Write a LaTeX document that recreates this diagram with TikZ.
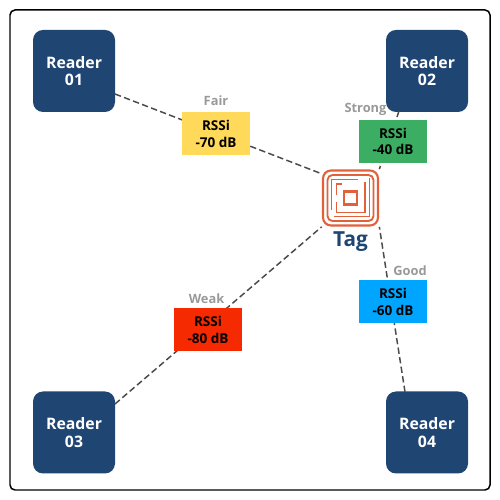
\documentclass[tikz,border=0pt]{standalone}
\usepackage{fontspec}
\setmainfont{Open Sans}
\usepackage{tikz}
\definecolor{readerblue}{HTML}{1F4573}
\definecolor{tagorange}{HTML}{E2603A}
\definecolor{fairyellow}{HTML}{FFD95A}
\definecolor{stronggreen}{HTML}{3CAE63}
\definecolor{goodblue}{HTML}{00A5FF}
\definecolor{weakred}{HTML}{F52A00}
\tikzset{
  reader/.style={fill=readerblue, rounded corners=0.2cm, minimum size=1.64cm, inner sep=0pt,
    align=center, text=white, font=\fontsize{9}{9.8}\selectfont\bfseries},
  rssi/.style={minimum width=1.36cm, minimum height=0.86cm, inner sep=0pt,
    align=center, text=black, font=\fontsize{7.7}{9.2}\selectfont\bfseries},
  quality/.style={text=gray!80, font=\fontsize{7.3}{8}\selectfont\bfseries, inner sep=0pt},
  link/.style={black!70, line width=0.85pt, dash pattern=on 3.6pt off 1.9pt},
  coil/.style={tagorange, line width=1.05pt}
}
\begin{document}
\begin{tikzpicture}
  \useasboundingbox (0,0) rectangle (10,10);

  % Outer frame
  \draw[black, line width=0.85pt, rounded corners=0.1cm] (0.2,0.2) rectangle (9.8,9.8);

  % Readers
  \node[reader] (reader1) at (1.48,8.58) {Reader\\01};
  \node[reader] (reader2) at (8.54,8.58) {Reader\\02};
  \node[reader] (reader3) at (1.48,1.35) {Reader\\03};
  \node[reader] (reader4) at (8.54,1.35) {Reader\\04};

  % Tag anchor
  \coordinate (tagcenter) at (7.01,6.04);
  \node[minimum size=1.14cm, inner sep=0pt] (tagicon) at (tagcenter) {};

  % Link ends
  \coordinate (port1) at (2.3,8.12);
  \coordinate (port2) at (7.98,7.78);
  \coordinate (port3) at (2.3,1.92);
  \coordinate (port4) at (8.1,2.16);

  % Links, drawn under the RSSi boxes
  \draw[link] (port1) -- (tagicon.140);
  \draw[link] (port2) -- (tagicon.north east);
  \draw[link] (port3) -- (tagicon.south west);
  \draw[link] (port4) -- (tagicon.south east);

  % RSSi boxes
  \node[rssi, fill=fairyellow] (fair) at (4.32,7.32) {RSSi\\-70 dB};
  \node[rssi, fill=stronggreen] (strong) at (7.86,7.17) {RSSi\\-40 dB};
  \node[rssi, fill=goodblue] (good) at (7.86,3.96) {RSSi\\-60 dB};
  \node[rssi, fill=weakred] (weak) at (4.16,3.4) {RSSi\\-80 dB};

  % Quality labels
  \node[quality] (fairlabel) at (4.32,7.98) {Fair};
  \node[quality] (stronglabel) at (7.31,7.82) {Strong};
  \node[quality] (goodlabel) at (8.2,4.58) {Good};
  \node[quality] (weaklabel) at (4.13,4.02) {Weak};

  % Tag icon
  \begin{scope}[shift={(tagcenter)}]
    \draw[coil, line width=1.2pt, rounded corners=0.16cm] (-0.55,-0.55) rectangle (0.55,0.55);
    \draw[coil, rounded corners=0.1cm] (-0.46,-0.46) rectangle (0.46,0.46);
    \draw[coil] (-0.38,-0.25) -- (-0.38,0.37) -- (0.14,0.37);
    \draw[coil] (0.38,0.39) -- (0.38,-0.37) -- (-0.33,-0.37);
    \draw[coil] (-0.28,-0.09) -- (-0.28,-0.29) -- (0.29,-0.29) -- (0.29,0.31);
    \draw[coil] (-0.28,0.06) -- (-0.28,0.28) -- (-0.18,0.28);
    \draw[coil, line width=1.2pt] (-0.13,-0.13) rectangle (0.13,0.13);
  \end{scope}
  \node[text=readerblue, font=\fontsize{11.8}{12}\selectfont\bfseries, inner sep=0pt] (taglabel) at (7.01,5.17) {Tag};
\end{tikzpicture}
\end{document}
